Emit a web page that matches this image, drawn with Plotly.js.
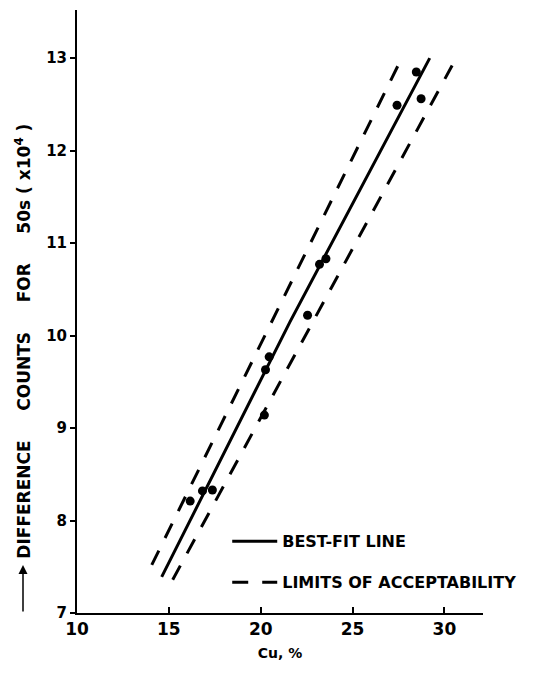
<!DOCTYPE html>
<html>
<head>
<meta charset="utf-8">
<script src="https://cdn.plot.ly/plotly-3.0.1.min.js"></script>
<style>html,body{margin:0;padding:0;background:#fff;}#chart{width:535px;height:673px;}</style>
</head>
<body>
<div id="chart"></div>
<script>
// Measured data points
var cuPct = [16.16, 16.83, 17.37, 20.2, 20.26, 20.46, 22.55, 23.2, 23.55, 27.42, 28.47, 28.73];
var diffCounts = [8.21, 8.32, 8.33, 9.14, 9.63, 9.77, 10.22, 10.77, 10.83, 12.49, 12.85, 12.56];

// Best-fit line (as drawn)
var fitX = [14.61, 21.6, 29.2];
var fitY = [7.39, 10.15, 13.0];

// Limits of acceptability (as drawn)
var lowLimX = [14.07, 27.6];
var lowLimY = [7.52, 12.97];
var highLimX = [15.21, 30.42];
var highLimY = [7.36, 12.92];

var xTicks = [10, 15, 20, 25, 30];
var xTickText = ['10', '15', '20', '25', '30'];
var yTicks = [7, 8, 9, 10, 11, 12, 13];
var yTickText = ['7', '8', '9', '10', '11', '12', '13'];

var FONT = 'DejaVu Sans, Liberation Sans, sans-serif';
var NB = '\u00a0';
function sp(n){ return NB.repeat(n); }

var traces = [
  {x: fitX, y: fitY, mode: 'lines', name: 'BEST-FIT LINE',
   line: {color: '#000', width: 3}, legend: 'legend', showlegend: true},
  {x: lowLimX, y: lowLimY, mode: 'lines', name: 'LIMITS OF ACCEPTABILITY',
   line: {color: '#000', width: 3, dash: '16px,14px'}, legend: 'legend2', showlegend: true},
  {x: highLimX, y: highLimY, mode: 'lines', name: 'LIMITS OF ACCEPTABILITY',
   line: {color: '#000', width: 3, dash: '16px,14px'}, legend: 'legend2', showlegend: false},
  {x: cuPct, y: diffCounts, mode: 'markers', name: 'data', showlegend: false,
   marker: {color: '#000', size: 9, symbol: 'circle'}}
];

var legendBase = {
  xanchor: 'left', yanchor: 'middle', bgcolor: 'rgba(0,0,0,0)', borderwidth: 0,
  itemwidth: 45,
  font: {family: FONT, size: 16, color: '#000', weight: 'bold'}
};

var layout = {
  width: 535, height: 673,
  margin: {l: 77, r: 52, t: 10, b: 60},
  paper_bgcolor: '#fff', plot_bgcolor: '#fff',
  showlegend: true,
  legend: Object.assign({}, legendBase, {x: 0.37, y: 0.119}),
  legend2: Object.assign({}, legendBase, {x: 0.37, y: 0.051}),
  xaxis: {
    range: [10, 32.1], tickvals: xTicks, ticktext: xTickText,
    ticks: 'inside', ticklen: 6, tickwidth: 2, tickcolor: '#000',
    showline: true, linewidth: 2, linecolor: '#000',
    showgrid: false, zeroline: false,
    tickfont: {family: FONT, size: 17, color: '#000', weight: 'bold'},
    title: {text: 'Cu, %', font: {family: FONT, size: 14, color: '#000', weight: 'bold'}, standoff: 10}
  },
  yaxis: {
    range: [7, 13.52], tickvals: yTicks, ticktext: yTickText,
    ticks: 'outside', ticklen: 5, tickwidth: 2, tickcolor: '#000',
    showline: true, linewidth: 2, linecolor: '#000',
    showgrid: false, zeroline: false,
    tickfont: {family: FONT, size: 15, color: '#000', weight: 'bold'}
  },
  annotations: [
    {xref: 'paper', yref: 'paper', x: -0.133, y: 0.45, xanchor: 'center', yanchor: 'middle',
     textangle: -90, showarrow: false,
     text: 'DIFFERENCE' + sp(5) + 'COUNTS' + sp(5) + 'FOR' + sp(5) + '50s ( x10<sup>4</sup> )',
     font: {family: FONT, size: 17, color: '#000', weight: 'bold'}},
    {xref: 'paper', yref: 'paper', x: -0.133, y: (613 - 565) / 603, text: '',
     showarrow: true, arrowhead: 2, arrowsize: 1.2, arrowwidth: 1.5, arrowcolor: '#000',
     ax: 0, ay: 48}
  ]
};

Plotly.newPlot('chart', traces, layout, {displayModeBar: false, staticPlot: true});
</script>
</body>
</html>
